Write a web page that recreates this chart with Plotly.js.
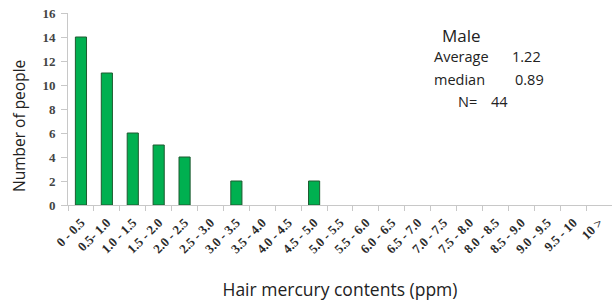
<!DOCTYPE html>
<html><head><meta charset="utf-8">
<script src="https://cdn.plot.ly/plotly-3.0.1.min.js"></script>
<style>html,body{margin:0;padding:0;background:#fff}#c{width:612px;height:305px}</style>
</head><body><div id="c"></div>
<script>
const categories = ["0 - 0.5","0.5- 1.0","1.0 - 1.5","1.5 - 2.0","2.0 - 2.5","2.5 - 3.0","3.0 - 3.5","3.5 - 4.0","4.0 - 4.5","4.5 - 5.0","5.0 - 5.5","5.5 - 6.0","6.0 - 6.5","6.5 - 7.0","7.0 - 7.5","7.5 - 8.0","8.0 - 8.5","8.5 - 9.0","9.0 - 9.5","9.5 - 10","10 >"];
const counts = [14,11,6,5,4,0,2,0,0,2,0,0,0,0,0,0,0,0,0,0,0];
const yTicks = [0,2,4,6,8,10,12,14,16];
const statLabels = ["Average","median","N="];
const statValues = ["1.22","0.89","44"];

const sans = 'Open Sans, sans-serif';
const serif = 'Liberation Serif, Times New Roman, serif';
const px = v => (v-68)/544, py = v => (205-v)/192;
const ann = (t, x, y, size, extra) => Object.assign({text:t, xref:'paper', yref:'paper', x:px(x), y:py(y), showarrow:false, xanchor:'left', yanchor:'middle', font:{family:sans, size:size, color:'#222'}}, extra||{});
const statX = [[432,510],[432,513],[456,489]];
const statY = [57,79,101];
const annotations = [
  ann('Number of people', 19, 126, 15.5, {textangle:-90, xanchor:'center'}),
  ann('Male', 440, 35, 17)
];
statLabels.forEach((l,i) => {
  annotations.push(ann(l, statX[i][0], statY[i], 14.5));
  annotations.push(ann(statValues[i], statX[i][1], statY[i], 14.5));
});

Plotly.newPlot('c', [{
  type:'bar', x:categories, y:counts.map(v => v === 0 ? null : v),
  marker:{color:'#00B050', line:{color:'#1e5a30', width:1}},
  hoverinfo:'none'
}], {
  width:612, height:305,
  margin:{l:68, r:0, t:13, b:100},
  paper_bgcolor:'#fff', plot_bgcolor:'#fff',
  bargap:0.57,
  showlegend:false,
  xaxis:{type:'category', tickangle:-45, tickson:'boundaries', ticks:'outside', ticklen:5,
    tickcolor:'#c8c8c8', showline:true, linecolor:'#c8c8c8', showgrid:false,
    ticklabelstandoff:4,
    tickfont:{family:serif, size:13, color:'#2a2a2a', weight:'bold'},
    title:{text:'Hair mercury contents (ppm)', font:{family:sans, size:17.5, color:'#222'}, standoff:28}},
  yaxis:{range:[0,16], tickvals:yTicks, ticks:'outside', ticklen:6, tickcolor:'#c8c8c8',
    showline:true, linecolor:'#c8c8c8', showgrid:false, zeroline:false,
    ticklabelstandoff:3,
    tickfont:{family:serif, size:13, color:'#444', weight:'bold'}},
  annotations:annotations
}, {displayModeBar:false, staticPlot:true});
</script></body></html>
